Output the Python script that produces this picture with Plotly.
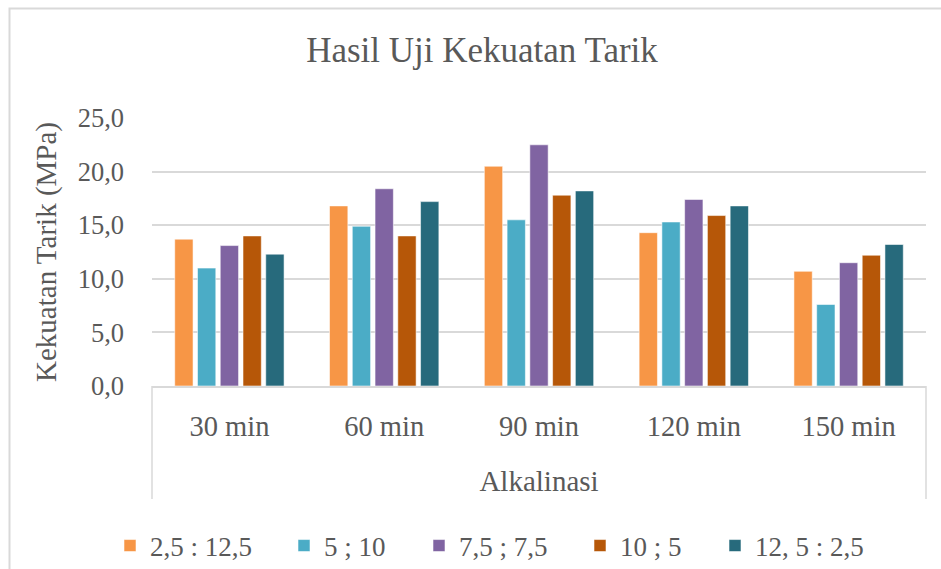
import plotly.graph_objects as go

categories = ["30 min", "60 min", "90 min", "120 min", "150 min"]
series_names = ["2,5 : 12,5", "5 ; 10", "7,5 ; 7,5", "10 ; 5", "12, 5 : 2,5"]
s1 = [13.7, 16.8, 20.5, 14.3, 10.7]
s2 = [11.0, 14.9, 15.5, 15.3, 7.6]
s3 = [13.1, 18.4, 22.5, 17.4, 11.5]
s4 = [14.0, 14.0, 17.8, 15.9, 12.2]
s5 = [12.3, 17.2, 18.2, 16.8, 13.2]
series_values = [s1, s2, s3, s4, s5]
colors = ["#F79646", "#4BACC6", "#8064A2", "#B65708", "#276A7C"]
y_ticks = [0, 5, 10, 15, 20, 25]

W, H = 941, 569
ML, MR, MT, MB = 152, 15, 118, 183
PW = W - ML - MR
PH = H - MT - MB

def px_x(p):
    return (p - ML) / PW

def px_y(p):
    return (H - MB - p) / PH

FONT = "Liberation Serif"
TXT = "#595959"
GRID = "#d9d9d9"

fig = go.Figure()
legend_names = ["legend", "legend2", "legend3", "legend4", "legend5"]
for name, vals, col, lg in zip(series_names, series_values, colors, legend_names):
    fig.add_trace(go.Bar(
        x=categories, y=vals, name=name,
        marker=dict(color=col, line=dict(color="rgba(255,255,255,0.55)", width=1)),
        legend=lg,
    ))

# legend square left positions (px)
sq_left = [125, 299, 434, 595, 730]
leg_layout = {}
for lg, sl in zip(legend_names, sq_left):
    leg_layout[lg] = dict(
        x=px_x(sl - 15), y=px_y(546), xanchor="left", yanchor="middle",
        orientation="h", bgcolor="rgba(0,0,0,0)",
        font=dict(family=FONT, size=27, color=TXT),
    )

fig.update_layout(
    width=W, height=H,
    margin=dict(l=ML, r=MR, t=MT, b=MB, autoexpand=False),
    paper_bgcolor="white", plot_bgcolor="white",
    separators=",.",
    barmode="group", bargap=0.265, bargroupgap=0.195,
    title=dict(text="Hasil Uji Kekuatan Tarik", x=482 / W, xref="container", xanchor="center",
               y=1 - 50 / H, yref="container", yanchor="middle",
               font=dict(family=FONT, size=35, color=TXT)),
    xaxis=dict(
        showline=True, linecolor=GRID, linewidth=1.5,
        ticks="outside", ticklen=14, tickcolor="rgba(0,0,0,0)",
        tickfont=dict(family=FONT, size=28.5, color=TXT),
        title=dict(text="Alkalinasi", font=dict(family=FONT, size=29, color=TXT), standoff=30),
        showgrid=False,
    ),
    yaxis=dict(
        range=[0, 25], tickvals=y_ticks, tickformat=".1f",
        showgrid=True, gridcolor=GRID, gridwidth=1.5,
        zeroline=False, showline=False,
        ticklabelstandoff=27,
        tickfont=dict(family=FONT, size=26.5, color=TXT),
        title=dict(text="Kekuatan Tarik (MPa)", font=dict(family=FONT, size=29, color=TXT), standoff=12),
    ),
    showlegend=True,
    **leg_layout,
)

# multi-level axis box side lines
for xv in (0, 1):
    fig.add_shape(type="line", xref="paper", yref="paper", x0=xv, x1=xv,
                  y0=0, y1=px_y(499), line=dict(color=GRID, width=1.5))

# outer chart border
fig.add_shape(type="rect", xref="paper", yref="paper",
              x0=px_x(9.5), x1=px_x(W + 5), y0=px_y(H + 5), y1=px_y(8.5),
              line=dict(color=GRID, width=2), fillcolor="rgba(0,0,0,0)", layer="below")

fig.write_html("out.html", config={"displayModeBar": False},
               post_script="document.body.style.margin='0';document.body.style.overflow='hidden';")
